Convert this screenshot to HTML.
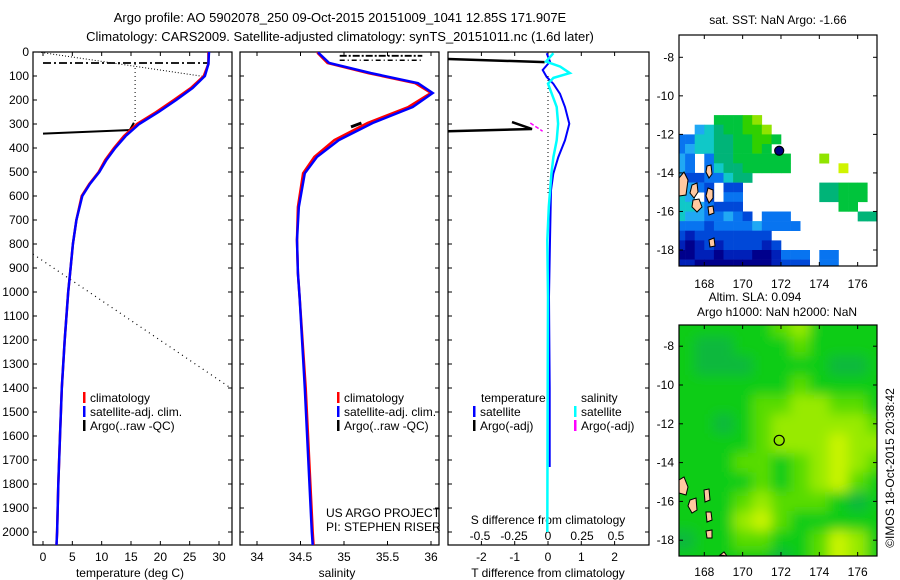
<!DOCTYPE html>
<html><head><meta charset="utf-8"><style>
html,body{margin:0;padding:0;background:#fff;}
svg{display:block;font-family:"Liberation Sans",sans-serif;}
text{fill:#000;}
</style></head><body>
<svg id="fig" width="900" height="580" viewBox="0 0 900 580">
<defs>
<clipPath id="c1"><rect x="33" y="52" width="199" height="493"/></clipPath>
<clipPath id="c2"><rect x="240" y="52" width="199" height="493"/></clipPath>
<clipPath id="c3"><rect x="448" y="52" width="201" height="493"/></clipPath>
<clipPath id="m1"><rect x="679" y="35" width="198" height="231"/></clipPath>
<clipPath id="m2"><rect x="679" y="325" width="198" height="231"/></clipPath>
<filter id="blur" x="-5%" y="-5%" width="110%" height="110%"><feGaussianBlur stdDeviation="6"/></filter>
</defs>
<text x="340" y="22" font-size="13" text-anchor="middle">Argo profile: AO 5902078_250 09-Oct-2015 20151009_1041 12.85S 171.907E</text>
<text x="340" y="41" font-size="13" text-anchor="middle">Climatology: CARS2009. Satellite-adjusted climatology: synTS_20151011.nc (1.6d later)</text>
<text x="778" y="24" font-size="12" text-anchor="middle">sat. SST: NaN Argo: -1.66</text>
<text x="755" y="301" font-size="12" text-anchor="middle">Altim. SLA: 0.094</text>
<text x="777" y="316" font-size="12" text-anchor="middle">Argo h1000: NaN h2000: NaN</text>
<text x="0" y="0" font-size="12" text-anchor="middle" transform="translate(894,468) rotate(-90)">©IMOS 18-Oct-2015 20:38:42</text>
<g id="g"></g>
</svg>
<script>
// ---------- data ----------
const climDepth = [0,50,100,150,200,250,300,350,400,450,500,550,600,700,800,900,1000,1200,1400,1600,1800,2000,2054];
const climTemp  = [28.2,28.2,27.4,25.2,22.3,19.3,16.0,13.8,12.1,10.6,9.5,7.9,6.6,5.7,5.1,4.7,4.3,3.7,3.2,2.9,2.6,2.4,2.3];
const satTemp   = [28.3,28.2,27.6,25.5,22.7,19.7,16.4,14.1,12.3,10.8,9.6,8.0,6.7,5.7,5.1,4.7,4.3,3.7,3.2,2.9,2.6,2.4,2.3];
const salDepth  = [0,5,46,88,130,171,229,296,367,437,505,646,783,921,1021,1400,1700,2000,2054];
const climSal   = [34.70,34.70,34.81,35.28,35.82,36.00,35.74,35.27,34.89,34.66,34.53,34.47,34.46,34.47,34.49,34.56,34.60,34.64,34.65];
const satSal    = [34.71,34.71,34.83,35.31,35.85,36.02,35.79,35.33,34.94,34.69,34.55,34.48,34.46,34.47,34.49,34.55,34.59,34.63,34.64];
const argoTDepth = [340,325,295];
const argoTemp   = [0.0,14.8,15.5];
const argoTopDepth = [46,46];
const argoTopTemp  = [0,28];
const argoBadDepth = [842,1400];
const argoBadTemp  = [-1.7,32];
const argoSDepth = [312,296];
const argoSal    = [35.08,35.2];
const diffDepth  = [5,40,75,104,132,174,229,299,368,438,507,576,785,1021,1400,1729];
const diffT      = [-0.04,0.06,-0.16,-0.04,0.16,0.36,0.51,0.64,0.51,0.31,0.16,0.09,0.06,0.03,0.05,0.05];
const diffSDepth = [5,40,61,88,108,132,229,299,368,438,507,646,785,1021,1500,2000];
const diffS      = [0.04,-0.015,0.09,0.16,0.04,0.0,0.064,0.074,0.064,0.04,0.025,0.006,-0.005,0.0,-0.003,-0.005];
const argoDTDepth = [330,321,292];
const argoDT      = [-3.0,-0.48,-1.08];
const argoDTopDepth = [29,42];
const argoDTop      = [-3.0,-0.1];
const argoDSDepth = [296,330];
const argoDS      = [-0.13,-0.04];
const depthTicks = [0,100,200,300,400,500,600,700,800,900,1000,1100,1200,1300,1400,1500,1600,1700,1800,1900,2000];
const tempTicks = [0,5,10,15,20,25,30];
const salTicks = [34,34.5,35,35.5,36];
const salTickLabels = ["34","34.5","35","35.5","36"];
const dTTicks = [-2,-1,0,1,2];
const dSTicks = [-0.5,-0.25,0,0.25,0.5];
const dSTickLabels = ["-0.5","-0.25","0","0.25","0.5"];
const lonTicks = [168,170,172,174,176];
const lat1Ticks = [-8,-10,-12,-14,-16,-18];
const argoLon = 171.907, argoLat = -12.85;
// SST grid: cols lon 166.5.. step .5, rows lat top -6.5 step -.5 ; '.' = no data
const sstLon0 = 166.5, sstLat0 = -6.5;
const sstRows = [
".....................",".....................",".....................",".....................",
".....................",".....................",".....................",".....................",
".....................",
"....77789............",
"..45677889...........",
"33556677887..........",
"3455667787...........",
"43.366777777...9.....",
"43.356677777.....A...",
"42233566.............",
"5432.22........66777.",
"54.2.33........66777.",
"5543222..........77..",
"54433432.333.......66",
"3332333343333........",
"2122222222...........",
"10121222212..........",
"00110111001333.33....",
"11000000001222.33...."];
// SLA grid: 1 degree cells, lon 166.5.., lat top -6.5
const slaLon0 = 166.5, slaLat0 = -6.5;
const slaRows = [
"11111231111","10011121111","10001111001","11111121111","11112233221",
"11012333332","11112333433","11122123432","11112123421","11123222101",
"11134211111","01122112431","11111012431"];
const sstColors = {"0":"#00008c","1":"#0020b8","2":"#0048d8","3":"#0874f0","4":"#20a8f4","5":"#10c8c8","6":"#00b478","7":"#00c43c","8":"#30d000","9":"#90e400","A":"#d0f400"};
const slaColors = ["#08b83c","#10cc18","#58dc00","#98ea00","#c8f400"];
const islands = [
[[679,178],[684,172],[688,180],[686,195],[679,196]],
[[692,185],[697,183],[698,192],[694,198],[690,193]],
[[693,200],[699,199],[702,207],[697,212],[692,207]],
[[707,166],[711,165],[712,174],[709,178],[706,172]],
[[708,188],[713,190],[713,198],[709,203],[706,196]],
[[708,207],[713,206],[714,213],[709,215]],
[[709,240],[714,238],[715,246],[710,247]]
];
const islands2 = [
[[679,480],[684,477],[688,487],[686,495],[679,493]],
[[690,500],[696,498],[697,510],[692,513],[688,506]],
[[704,490],[709,489],[710,500],[705,502]],
[[706,512],[711,512],[712,520],[707,522]],
[[706,531],[712,530],[712,538],[707,538]],
[[720,555],[724,552],[727,556]]
];
// ---------- scales ----------
const dy = d => 52 + d*0.24;
const tx = t => 43 + t*5.867;
const sx = s => 257 + (s-34)*87;
const dtx = t => 548 + t*33.3;
const dsx = s => 548 + s*136;
const lonx = l => 704.3 + (l-168)*19.17;
const laty1 = a => 57.3 + (-8-a)*19.27;
const laty2 = a => 385 + (-10-a)*19.4;
// ---------- helpers ----------
const NS="http://www.w3.org/2000/svg";
const G=document.getElementById('g');
function mk(tag,attrs,parent){const e=document.createElementNS(NS,tag);for(const k in attrs)e.setAttribute(k,attrs[k]);(parent||G).appendChild(e);return e;}
function poly(xs,ys,xf,yf,stroke,w,dash,clip,name){
  const pts=xs.map((v,i)=>xf(v).toFixed(1)+','+yf(ys[i]).toFixed(1)).join(' ');
  const e=mk('polyline',{points:pts,fill:'none',stroke:stroke,'stroke-width':w,'clip-path':'url(#'+clip+')'});
  if(dash)e.setAttribute('stroke-dasharray',dash);
  
  
  return e;
}
function txt(x,y,s,anchor,size,name){
  const e=mk('text',{x:x,y:y,'font-size':size||12,'text-anchor':anchor||'middle'});
  e.textContent=s;
  
  
  return e;
}
function frame(x,y,w,h,name){
  const e=mk('rect',{x:x,y:y,width:w,height:h,fill:'none',stroke:'#000','stroke-width':1.2});
  
  
}
function tick(x1,y1,x2,y2){const e=mk('line',{x1:x1,y1:y1,x2:x2,y2:y2,stroke:'#000','stroke-width':1});
  
  }
// ---------- depth ticks ----------
depthTicks.forEach(d=>{
  const y=dy(d);
  txt(29,y+4,String(d),'end',12,'depth-tick-label');
  [[33,232],[240,439],[448,649]].forEach(p=>{tick(p[0],y,p[0]+4,y);tick(p[1],y,p[1]-4,y);});
});
// ---------- panel 1 temperature ----------
frame(33,52,199,493,'temperature-panel');
tempTicks.forEach(t=>{const x=tx(t);tick(x,52,x,56);tick(x,545,x,541);txt(x,561,String(t),'middle',12,'temperature-tick-label');});
txt(130,577,'temperature (deg C)','middle',12,'x-axis-title-temperature');
poly(argoTopTemp,argoTopDepth,tx,dy,'#000',1.8,'8 3 2 3','c1','argo-temp-top-flagged');
poly([-0.8,28],[0,104],tx,dy,'#000',1,'1 2','c1','argo-temp-flagged-dotted');
poly([15.7,15.7],[50,290],tx,dy,'#000',1,'1 3','c1','argo-temp-flagged-vertical');
poly(argoBadTemp,argoBadDepth,tx,dy,'#000',1.2,'1 4','c1','argo-temp-flagged-deep');
poly(argoTemp,argoTDepth,tx,dy,'#000',2,null,'c1','argo-temp-profile');
poly(climTemp,climDepth,tx,dy,'#ff0000',2.5,null,'c1','climatology-temp-line');
poly(satTemp,climDepth,tx,dy,'#0000ff',2.5,null,'c1','satellite-temp-line');
// ---------- panel 2 salinity ----------
frame(240,52,199,493,'salinity-panel');
salTicks.forEach((s,i)=>{const x=sx(s);tick(x,52,x,56);tick(x,545,x,541);txt(x,561,salTickLabels[i],'middle',12,'salinity-tick-label');});
txt(337,577,'salinity','middle',12,'x-axis-title-salinity');
poly([34.95,35.9],[16,16],sx,dy,'#000',1.8,'7 2 2 2','c2','argo-sal-top-flagged');
poly([34.95,35.9],[34,34],sx,dy,'#000',1.5,'5 3 1 3','c2','argo-sal-top-flagged-2');
poly(climSal,salDepth,sx,dy,'#ff0000',2.5,null,'c2','climatology-sal-line');
poly(satSal,salDepth,sx,dy,'#0000ff',2.5,null,'c2','satellite-sal-line');
poly(argoSal,argoSDepth,sx,dy,'#000',3,null,'c2','argo-sal-profile');
txt(326,517,'US ARGO PROJECT','start',12,'project-label');
txt(326,531,'PI: STEPHEN RISER','start',12,'pi-label');
// ---------- panel 3 differences ----------
frame(448,52,201,493,'difference-panel');
dTTicks.forEach(t=>{const x=dtx(t);tick(x,52,x,56);tick(x,545,x,541);txt(x,561,String(t),'middle',12,'temp-diff-tick-label');});
dSTicks.forEach((s,i)=>{txt(dsx(s),540,dSTickLabels[i],'middle',12,'sal-diff-tick-label');});
txt(548,524,'S difference from climatology','middle',12,'sal-diff-axis-title');
txt(548,577,'T difference from climatology','middle',12,'temp-diff-axis-title');
poly([0,0],[100,600],dtx,dy,'#000',1,'1 3','c3','zero-reference-dotted');
poly(argoDTop,argoDTopDepth,dtx,dy,'#000',2.5,null,'c3','argo-temp-diff-top');
poly(argoDT,argoDTDepth,dtx,dy,'#000',2.5,null,'c3','argo-temp-diff');
poly(argoDS,argoDSDepth,dsx,dy,'#ff00ff',1.5,'4 2','c3','argo-sal-diff');
poly(diffT,diffDepth,dtx,dy,'#0000ff',2,null,'c3','satellite-temp-diff-line');
poly(diffS,diffSDepth,dsx,dy,'#00ffff',2.5,null,'c3','satellite-sal-diff-line');
// ---------- legends ----------
function legend(x,y,color,label,name){
  const r=mk('rect',{x:x,y:y-10,width:2.5,height:11,fill:color});
  
  
  txt(x+7,y,label,'start',12,name);
}
legend(83,402,'#ff0000','climatology','legend-climatology');
legend(83,416,'#0000ff','satellite-adj. clim.','legend-satellite');
legend(83,430,'#000','Argo(..raw -QC)','legend-argo');
legend(337,402,'#ff0000','climatology','legend-climatology-sal');
legend(337,416,'#0000ff','satellite-adj. clim.','legend-satellite-sal');
legend(337,430,'#000','Argo(..raw -QC)','legend-argo-sal');
txt(481,402,'temperature','start',12,'legend-temperature-heading');
txt(581,402,'salinity','start',12,'legend-salinity-heading');
legend(473,416,'#0000ff','satellite','legend-temp-satellite');
legend(473,430,'#000','Argo(-adj)','legend-temp-argo');
legend(574,416,'#00ffff','satellite','legend-sal-satellite');
legend(574,430,'#ff00ff','Argo(-adj)','legend-sal-argo');
// ---------- map 1 SST ----------
const m1=mk('g',{'clip-path':'url(#m1)'});


sstRows.forEach((row,r)=>{
  for(let c=0;c<row.length;c++){
    const ch=row[c]; if(ch==='.')continue;
    const lon=sstLon0+0.5*c, lat=sstLat0-0.5*r;
    const x=lonx(lon), y=laty1(lat);
    const cell=mk('rect',{x:x.toFixed(1),y:y.toFixed(1),width:(lonx(lon+0.5)-x+0.3).toFixed(1),height:(laty1(lat-0.5)-y+0.3).toFixed(1),fill:sstColors[ch]},m1);
    
    
  }
});
islands.forEach(p=>{const e=mk('polygon',{points:p.map(q=>q.join(',')).join(' '),fill:'#ffc8a0',stroke:'#000','stroke-width':1},m1);
  
  });
const dot=mk('circle',{cx:lonx(argoLon),cy:laty1(argoLat),r:4.5,fill:'#000080',stroke:'#000','stroke-width':1.2});


frame(679,35,198,231,'sst-map-frame');
lonTicks.forEach(l=>{const x=lonx(l);tick(x,35,x,39);tick(x,266,x,262);txt(x,288,String(l),'middle',12,'sst-lon-label');});
lat1Ticks.forEach(a=>{const y=laty1(a);tick(679,y,683,y);tick(877,y,873,y);txt(674,y+4,String(a),'end',12,'sst-lat-label');});
// ---------- map 2 SLA ----------
const m2=mk('g',{'clip-path':'url(#m2)'});


mk('rect',{x:679,y:325,width:198,height:231,fill:slaColors[1]},m2);
const bl=mk('g',{filter:'url(#blur)'},m2);
slaRows.forEach((row,r)=>{
  for(let c=0;c<row.length;c++){
    const lon=slaLon0+c, lat=slaLat0-r;
    const x=lonx(lon), y=laty2(lat);
    let w=lonx(lon+1)-x+0.5, h=laty2(lat-1)-y+0.5;
    let xx=x, yy=y;
    if(c===0){xx-=12;w+=12;} if(c===row.length-1){w+=12;}
    if(r===0){yy-=12;h+=12;} if(r===slaRows.length-1){h+=12;}
    const cell=mk('rect',{x:xx.toFixed(1),y:yy.toFixed(1),width:w.toFixed(1),height:h.toFixed(1),fill:slaColors[+row[c]]},bl);
    
    
  }
});
islands2.forEach(p=>{const e=mk('polygon',{points:p.map(q=>q.join(',')).join(' '),fill:'#ffc8a0',stroke:'#000','stroke-width':1},m2);
  
  });
const ring=mk('circle',{cx:lonx(argoLon),cy:laty2(argoLat),r:5,fill:'none',stroke:'#000','stroke-width':1.2});


frame(679,325,198,231,'sla-map-frame');
lonTicks.forEach(l=>{const x=lonx(l);tick(x,325,x,329);tick(x,556,x,552);txt(x,576,String(l),'middle',12,'sla-lon-label');});
[-8,-10,-12,-14,-16,-18].forEach(a=>{const y=laty2(a);tick(679,y,683,y);tick(877,y,873,y);txt(674,y+4,String(a),'end',12,'sla-lat-label');});
</script>
</body></html>
